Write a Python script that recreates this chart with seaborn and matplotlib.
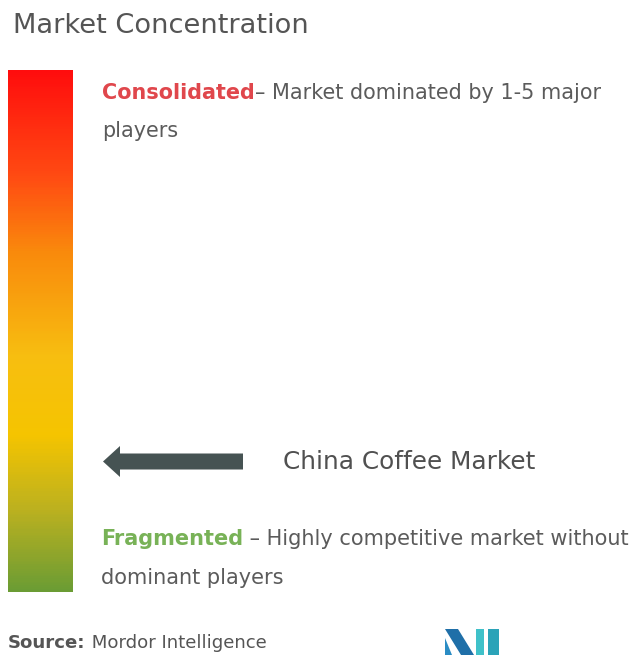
import numpy as np
import matplotlib
matplotlib.use("Agg")
import matplotlib.pyplot as plt
from matplotlib.colors import LinearSegmentedColormap
from matplotlib.patches import FancyArrow, Polygon
import seaborn as sns

sns.set_theme(style="white")
plt.rcParams["font.family"] = ["DejaVu Sans"]

# Concentration scale: gradient stops from fragmented (0) to consolidated (1)
stop_positions = [0.0, 0.15, 0.30, 0.45, 0.65, 0.80, 1.0]
stop_colors = ["#6B9C34", "#B9B020", "#F5C400", "#F7BE10", "#F98A0C", "#FF4A12", "#FF0D0D"]
levels = 300

# Where the market sits on the scale (0 = fragmented, 1 = consolidated)
market_name = "China Coffee Market"
market_position = 0.25

title = "Market Concentration"
top_label = "Consolidated"
top_desc = "\u2013 Market dominated by 1-5 major"
top_desc2 = "players"
bottom_label = "Fragmented"
bottom_desc = " \u2013 Highly competitive market without"
bottom_desc2 = "dominant players"
source_label = "Source:"
source_text = " Mordor Intelligence"

W, H = 632, 655
fig = plt.figure(figsize=(W / 100, H / 100), dpi=100)
fig.patch.set_facecolor("white")

# Overlay axes in pixel coordinates for text and shapes
ov = fig.add_axes([0, 0, 1, 1])
ov.set_xlim(0, W)
ov.set_ylim(H, 0)
ov.axis("off")

# Gradient bar drawn as a one-column heatmap
bar_left, bar_top, bar_w, bar_h = 8, 70, 65, 522
ax_bar = fig.add_axes([bar_left / W, (H - bar_top - bar_h) / H, bar_w / W, bar_h / H])
cmap = LinearSegmentedColormap.from_list("conc", list(zip(stop_positions, stop_colors)))
scale = np.linspace(1, 0, levels).reshape(-1, 1)
sns.heatmap(scale, ax=ax_bar, cmap=cmap, vmin=0, vmax=1, cbar=False,
            xticklabels=False, yticklabels=False)
ax_bar.set_xlabel("")
ax_bar.set_ylabel("")

# Arrow pointing at the market position on the bar
pt = ax_bar.transData.transform((0, levels * (1 - market_position)))
arrow_y = ov.transData.inverted().transform(pt)[1]
ov.add_patch(FancyArrow(243, arrow_y, -140, 0, width=16, head_width=31,
                        head_length=17, length_includes_head=True,
                        color="#465353", lw=0))
ov.text(283, arrow_y, market_name, fontsize=17.8, color="#505050",
        va="center", ha="left")

grey = "#5B5B5B"
ov.text(13, 26, title, fontsize=19.6, color="#555555", va="center", ha="left")

t1 = ov.text(102, 93, top_label, fontsize=14.95, color="#E0474C",
             fontweight="bold", va="center", ha="left")
ov.annotate(top_desc, xy=(1, 0.5), xycoords=t1, fontsize=14.95, color=grey,
            va="center", ha="left")
ov.text(102, 131, top_desc2, fontsize=14.95, color=grey, va="center", ha="left")

t2 = ov.text(101, 539, bottom_label, fontsize=15.05, color="#78B257",
             fontweight="bold", va="center", ha="left")
ov.annotate(bottom_desc, xy=(1, 0.5), xycoords=t2, fontsize=15.05, color=grey,
            va="center", ha="left")
ov.text(101, 578, bottom_desc2, fontsize=15.05, color=grey, va="center", ha="left")

t3 = ov.text(8, 643, source_label, fontsize=13.1, color="#555555",
             fontweight="bold", va="center", ha="left")
ov.annotate(source_text, xy=(1, 0.5), xycoords=t3, fontsize=13.1, color="#555555",
            va="center", ha="left")

# Logo mark
ov.add_patch(Polygon([(445, 629), (458, 629), (474, 655), (461, 655)], color="#1F6FA8", lw=0))
ov.add_patch(Polygon([(445, 638), (452, 655), (445, 655)], color="#2A8CC4", lw=0))
ov.add_patch(Polygon([(476, 629), (484, 629), (484, 655), (476, 655)], color="#3FC1C9", lw=0))
ov.add_patch(Polygon([(488, 629), (499, 629), (499, 655), (488, 655)], color="#2BA3B8", lw=0))

fig.savefig("out.png", dpi=100, facecolor="white")
